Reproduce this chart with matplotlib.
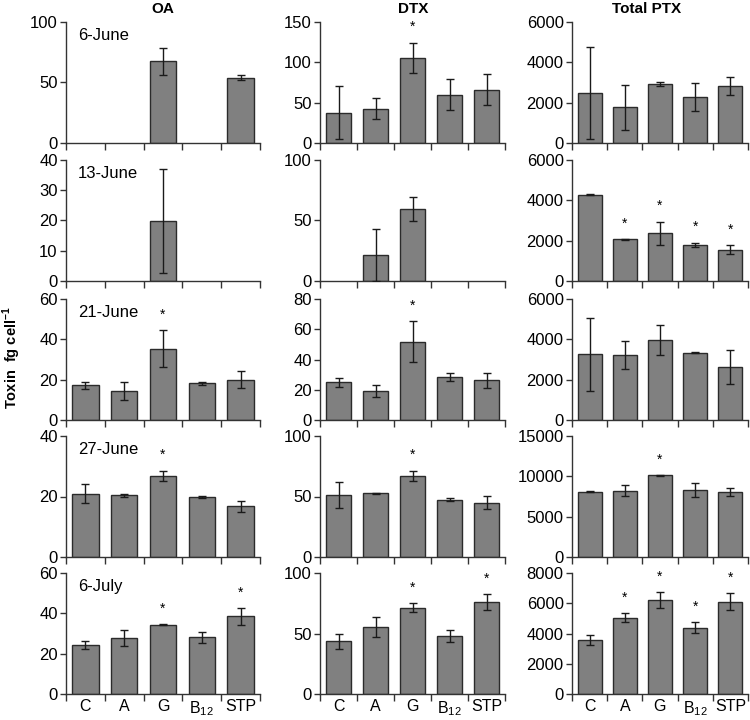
import numpy as np
import matplotlib
matplotlib.use("Agg")
import matplotlib.pyplot as plt

plt.rcParams['font.family'] = ['Liberation Sans', 'DejaVu Sans']
plt.rcParams['mathtext.fontset'] = 'custom'
plt.rcParams['mathtext.rm'] = 'Liberation Sans'
plt.rcParams['mathtext.bf'] = 'Liberation Sans:bold'

nan = np.nan

# categories and sampling dates
categories = ['C', 'A', 'G', 'B$_{12}$', 'STP']
dates = ['6-June', '13-June', '21-June', '27-June', '6-July']
toxins = ['OA', 'DTX', 'Total PTX']

# OA (fg cell-1), rows = dates
oa_mean = [[nan, nan, 67.5, nan, 54.0],
           [nan, nan, 19.8, nan, nan],
           [17.2, 14.4, 35.3, 18.1, 19.9],
           [20.9, 20.4, 26.8, 19.8, 16.7],
           [24.1, 27.8, 34.4, 28.1, 38.5]]
oa_err = [[0, 0, 11.0, 0, 2.3],
          [0, 0, 17.2, 0, 0],
          [1.7, 4.5, 9.1, 0.5, 4.2],
          [3.1, 0.4, 1.7, 0.3, 1.8],
          [2.0, 3.9, 0.2, 2.8, 4.1]]
oa_sig = [[0, 0, 0, 0, 0],
          [0, 0, 0, 0, 0],
          [0, 0, 1, 0, 0],
          [0, 0, 1, 0, 0],
          [0, 0, 1, 0, 1]]

# DTX
dtx_mean = [[37.8, 42.7, 105.6, 60.0, 66.2],
            [nan, 21.4, 59.3, nan, nan],
            [24.8, 19.1, 51.9, 28.4, 26.4],
            [51.6, 52.7, 67.3, 47.3, 45.0],
            [43.4, 55.5, 71.3, 48.3, 76.0]]
dtx_err = [[32.7, 12.7, 18.5, 19.0, 19.0],
           [0, 21.7, 9.9, 0, 0],
           [2.8, 3.8, 13.4, 2.8, 5.0],
           [10.7, 0.5, 4.1, 1.2, 5.6],
           [6.0, 8.0, 3.6, 5.0, 6.4]]
dtx_sig = [[0, 0, 1, 0, 0],
           [0, 0, 0, 0, 0],
           [0, 0, 1, 0, 0],
           [0, 0, 1, 0, 0],
           [0, 0, 1, 0, 1]]

# Total PTX
ptx_mean = [[2475, 1763, 2949, 2271, 2831],
            [4288, 2061, 2360, 1795, 1546],
            [3249, 3215, 3978, 3331, 2619],
            [8109, 8235, 10126, 8277, 8067],
            [3538, 5055, 6198, 4374, 6088]]
ptx_err = [[2280, 1110, 100, 690, 450],
           [40, 10, 570, 100, 230],
           [1790, 705, 755, 30, 830],
           [50, 715, 30, 860, 480],
           [330, 275, 540, 360, 560]]
ptx_sig = [[0, 0, 0, 0, 0],
           [0, 1, 1, 1, 1],
           [0, 0, 0, 0, 0],
           [0, 0, 1, 0, 0],
           [0, 1, 1, 1, 1]]

# axis maxima and tick steps per panel
oa_ylim = [(100, 50), (40, 10), (60, 20), (40, 20), (60, 20)]
dtx_ylim = [(150, 50), (100, 50), (80, 20), (100, 50), (100, 50)]
ptx_ylim = [(6000, 2000), (6000, 2000), (6000, 2000), (15000, 5000), (8000, 2000)]

means = [oa_mean, dtx_mean, ptx_mean]
errs = [oa_err, dtx_err, ptx_err]
sigs = [oa_sig, dtx_sig, ptx_sig]
ylims = [oa_ylim, dtx_ylim, ptx_ylim]

# layout in pixels (750x720 figure)
W, H = 750, 720
col_x = [(66, 260), (320, 505), (572, 748)]
row_top = [22, 160, 299, 436, 573]
row_h = 121
title_x = [163, 413, 647]

fig = plt.figure(figsize=(7.5, 7.2), dpi=100)
x = np.arange(len(categories))

for c in range(3):
    for r in range(5):
        x0, x1 = col_x[c]
        ax = fig.add_axes([x0 / W, 1 - (row_top[r] + row_h) / H, (x1 - x0) / W, row_h / H])
        m = np.array(means[c][r], dtype=float)
        e = np.array(errs[c][r], dtype=float)
        ok = ~np.isnan(m)
        ax.bar(x[ok], m[ok], width=0.68, color='#808080', edgecolor='#2b2b2b', linewidth=1.0, zorder=2)
        ax.errorbar(x[ok], m[ok], yerr=e[ok], fmt='none', ecolor='#1a1a1a', elinewidth=1.0,
                    capsize=3, capthick=1.0, zorder=3)
        ymax, step = ylims[c][r]
        for i in range(len(categories)):
            if sigs[c][r][i]:
                ax.text(x[i], m[i] + e[i] + 0.13 * ymax, '*', ha='center', va='center', fontsize=10)
        ax.set_ylim(0, ymax)
        ax.set_yticks(np.arange(0, ymax + step / 2, step))
        ax.set_xlim(-0.5, len(categories) - 0.5)
        ax.set_xticks(np.arange(len(categories) + 1) - 0.5)
        ax.set_xticklabels([])
        ax.set_xticks(x, minor=True)
        if r == 4:
            ax.set_xticklabels(categories, minor=True, fontsize=11.5)
        ax.tick_params(axis='x', which='minor', length=0, pad=3.5)
        ax.tick_params(axis='x', which='major', length=5, width=1, direction='out', color='#333333')
        ax.tick_params(axis='y', length=4, width=1, direction='out', labelsize=12, color='#333333', pad=2)
        for s in ['top', 'right']:
            ax.spines[s].set_visible(False)
        for s in ['left', 'bottom']:
            ax.spines[s].set_color('#333333')
            ax.spines[s].set_linewidth(1.0)
        if c == 0:
            ax.text(0.062, 0.885, dates[r], transform=ax.transAxes, ha='left', va='center', fontsize=12)

for c in range(3):
    fig.text(title_x[c] / W, 1 - 9 / H, toxins[c], ha='center', va='center', fontsize=11, fontweight='bold')

fig.text(12 / W, 1 - 358 / H, r'Toxin  fg cell$^{\mathbf{-1}}$', rotation=90, ha='center', va='center',
         fontsize=10.5, fontweight='bold')

fig.savefig('out.png', dpi=100)
